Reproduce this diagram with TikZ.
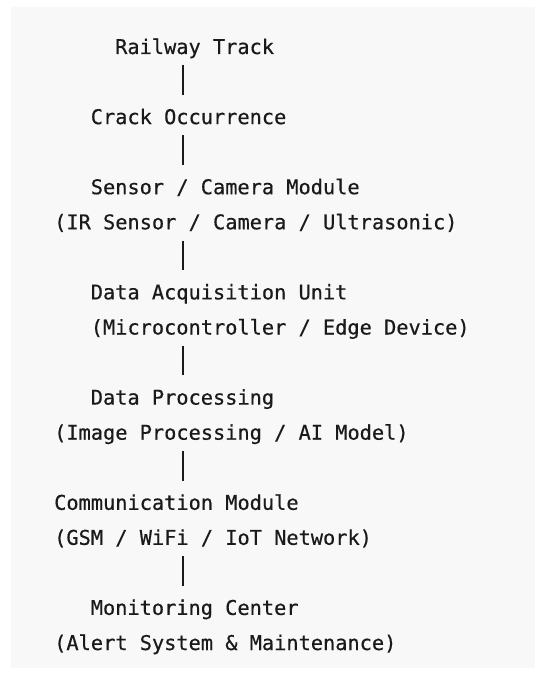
\documentclass[tikz,border=0pt]{standalone}
\usepackage{fontspec}
\newfontfamily\codefont[FakeBold=0.5]{DejaVu Sans Mono}
\usepackage{xcolor}
\definecolor{codebg}{HTML}{F8F8F8}
\definecolor{codeink}{HTML}{1A1A1A}

\begin{document}
\begin{tikzpicture}[
  x=1pt, y=1pt,
  row/.style={anchor=base west, inner sep=0pt, text height=29pt,
    text depth=11pt, font=\fontsize{20.3}{24}\codefont, text=codeink},
  link/.style={draw=codeink, line width=2pt}
]
\useasboundingbox (0,0) rectangle (535,-677);

% Sfondo del blocco di codice
\fill[codebg] (11,-7) rectangle (535,-668);

% Colonna dei collegamenti verticali
\coordinate (spine) at (182.5,0);

% Righe di testo (colonna 0 = x 54, passo 12.2; riga passo 35.06)
\node[row] (track) at (115,-54) {Railway Track};
\node[row] (crack) at (90.6,-124.1) {Crack Occurrence};
\node[row] (sensor) at (90.6,-194.2) {Sensor / Camera Module};
\node[row] (sensorkind) at (54,-229.3) {(IR Sensor / Camera / Ultrasonic)};
\node[row] (daq) at (90.6,-299.4) {Data Acquisition Unit};
\node[row] (daqkind) at (90.6,-334.5) {(Microcontroller / Edge Device)};
\node[row] (proc) at (90.6,-404.6) {Data Processing};
\node[row] (prockind) at (54,-439.7) {(Image Processing / AI Model)};
\node[row] (comm) at (54,-509.8) {Communication Module};
\node[row] (commkind) at (54,-544.8) {(GSM / WiFi / IoT Network)};
\node[row] (monitor) at (90.6,-614.9) {Monitoring Center};
\node[row] (monitorkind) at (54,-650) {(Alert System \& Maintenance)};

% Collegamenti
\draw[link] (track.south -| spine) -- (crack.north -| spine);
\draw[link] (crack.south -| spine) -- (sensor.north -| spine);
\draw[link] (sensorkind.south -| spine) -- (daq.north -| spine);
\draw[link] (daqkind.south -| spine) -- (proc.north -| spine);
\draw[link] (prockind.south -| spine) -- (comm.north -| spine);
\draw[link] (commkind.south -| spine) -- (monitor.north -| spine);

\end{tikzpicture}
\end{document}
